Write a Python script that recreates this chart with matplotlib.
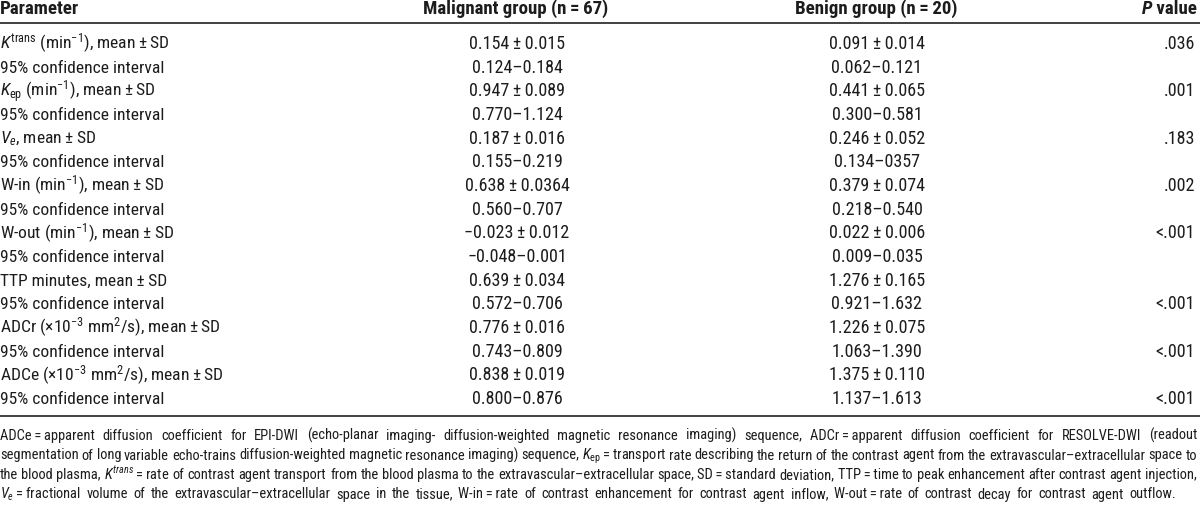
import matplotlib
matplotlib.use('Agg')
import matplotlib.pyplot as plt
from matplotlib import font_manager
from matplotlib.ft2font import FT2Font

# ---------------- data ----------------
header = ["Parameter", "Malignant group (n{s}={s}67)", "Benign group (n{s}={s}20)", "P", " value"]

params = [
    r"$K^{\mathrm{trans}}$ (min$^{-1}$), mean{s}±{s}SD",
    "95% confidence interval",
    r"$K_{\mathrm{ep}}$ (min$^{-1}$), mean{s}±{s}SD",
    "95% confidence interval",
    r"$V_{e}$, mean{s}±{s}SD",
    "95% confidence interval",
    r"W-in (min$^{-1}$), mean{s}±{s}SD",
    "95% confidence interval",
    r"W-out (min$^{-1}$), mean{s}±{s}SD",
    "95% confidence interval",
    "TTP minutes, mean{s}±{s}SD",
    "95% confidence interval",
    r"ADCr (×10$^{-3}$ mm$^{2}$/s), mean{s}±{s}SD",
    "95% confidence interval",
    r"ADCe (×10$^{-3}$ mm$^{2}$/s), mean{s}±{s}SD",
    "95% confidence interval",
]
malignant = ["0.154{s}±{s}0.015", "0.124–0.184", "0.947{s}±{s}0.089", "0.770–1.124",
             "0.187{s}±{s}0.016", "0.155–0.219", "0.638{s}±{s}0.0364", "0.560–0.707",
             "−0.023{s}±{s}0.012", "−0.048–0.001", "0.639{s}±{s}0.034", "0.572–0.706",
             "0.776{s}±{s}0.016", "0.743–0.809", "0.838{s}±{s}0.019", "0.800–0.876"]
benign = ["0.091{s}±{s}0.014", "0.062–0.121", "0.441{s}±{s}0.065", "0.300–0.581",
          "0.246{s}±{s}0.052", "0.134–0357", "0.379{s}±{s}0.074", "0.218–0.540",
          "0.022{s}±{s}0.006", "0.009–0.035", "1.276{s}±{s}0.165", "0.921–1.632",
          "1.226{s}±{s}0.075", "1.063–1.390", "1.375{s}±{s}0.110", "1.137–1.613"]
pvals = [".036", "", ".001", "", ".183", "", ".002", "", "<.001", "",
         "", "<.001", "", "<.001", "", "<.001"]

footnote = [
    "ADCe{s}={s}apparent diffusion coefficient for EPI-DWI (echo-planar imaging- diffusion-weighted magnetic resonance imaging) sequence, ADCr{s}={s}apparent diffusion coefficient for RESOLVE-DWI (readout",
    r"segmentation of long variable echo-trains diffusion-weighted magnetic resonance imaging) sequence, $K_{\mathrm{ep}}${s}={s}transport rate describing the return of the contrast agent from the extravascular–extracellular space to",
    r"the blood plasma, $K^{trans}${s}={s}rate of contrast agent transport from the blood plasma to the extravascular–extracellular space, SD{s}={s}standard deviation, TTP{s}={s}time to peak enhancement after contrast agent injection,",
    r"$V_{e}${s}={s}fractional volume of the extravascular–extracellular space in the tissue, W-in{s}={s}rate of contrast enhancement for contrast agent inflow, W-out{s}={s}rate of contrast decay for contrast agent outflow.",
]

# ---------------- fonts ----------------
names = {f.name for f in font_manager.fontManager.ttflist}
FONT = 'Liberation Sans'
for cand in ['Liberation Sans Narrow', 'Nimbus Sans Narrow', 'Roboto Condensed', 'Archivo Narrow',
             'PT Sans Narrow', 'Fira Sans Condensed', 'IBM Plex Sans Condensed', 'Asap Condensed']:
    if cand in names:
        FONT = cand
        break
plt.rcParams['font.family'] = [FONT, 'DejaVu Sans']
plt.rcParams['mathtext.fontset'] = 'custom'
plt.rcParams['mathtext.rm'] = FONT
plt.rcParams['mathtext.it'] = FONT + ':italic'
plt.rcParams['mathtext.bf'] = FONT + ':bold'

try:
    _ft = FT2Font(font_manager.findfont(FONT))
    THIN = '\u2009' if _ft.get_char_index(0x2009) else ''
except Exception:
    THIN = ''

def sp(s):
    return s.replace('{s}', THIN)

TXT = '#1c1c1c'

fig = plt.figure(figsize=(12, 5.07), dpi=100)
ax = fig.add_axes([0, 0, 1, 1])
ax.set_xlim(0, 1200)
ax.set_ylim(507, 0)
ax.axis('off')
renderer = fig.canvas.get_renderer()

def width(s, **kw):
    t = ax.text(0, 0, s, **kw)
    w = t.get_window_extent(renderer).width
    t.remove()
    return w

def fit(s, target, **kw):
    return 10 * target / width(s, fontsize=10, **kw)

def natural(line, fs):
    toks = line.split(' ')
    spw = width('n n', fontsize=fs) - width('nn', fontsize=fs)
    return sum(width(t, fontsize=fs) for t in toks) + spw * (len(toks) - 1)

# sizes
fs_par = fit("95% confidence interval", 163)
fs_val = fit("0.124–0.184", 90)
fs_hdr = fit(sp(header[1]), 185, fontweight='bold')
fs_fn = 10 * 1197 / natural(sp(footnote[1]), 10)

# ---------------- header ----------------
yh = 14
ax.text(0, yh, header[0], fontsize=fs_hdr, fontweight='bold', ha='left', va='baseline', color=TXT)
ax.text(516, yh, sp(header[1]), fontsize=fs_hdr, fontweight='bold', ha='center', va='baseline', color=TXT)
ax.text(876, yh, sp(header[2]), fontsize=fs_hdr, fontweight='bold', ha='center', va='baseline', color=TXT)
wv = width(header[4], fontsize=fs_hdr, fontweight='bold')
ax.text(1197, yh, header[4], fontsize=fs_hdr, fontweight='bold', ha='right', va='baseline', color=TXT)
ax.text(1197 - wv, yh, header[3], fontsize=fs_hdr, fontweight='bold', fontstyle='italic',
        ha='right', va='baseline', color=TXT)

ax.plot([0, 1200], [23, 23], color='#333333', lw=1.3, solid_capstyle='butt')
ax.plot([0, 1200], [415.5, 415.5], color='#333333', lw=1.3, solid_capstyle='butt')

# ---------------- rows ----------------
y0, dy = 49, 23.67
for i in range(len(params)):
    yb = y0 + dy * i
    ax.text(0, yb, sp(params[i]), fontsize=fs_par, ha='left', va='baseline', color=TXT)
    ax.text(517, yb, sp(malignant[i]), fontsize=fs_val, ha='center', va='baseline', color=TXT)
    ax.text(877, yb, sp(benign[i]), fontsize=fs_val, ha='center', va='baseline', color=TXT)
    if pvals[i]:
        ax.text(1195, yb, pvals[i], fontsize=fs_val, ha='right', va='baseline', color=TXT)

# ---------------- footnote (justified) ----------------
fn_base = [440, 459.5, 479, 498.5]
fn_right = [1197, 1197, 1197, 1176]
for line, yb, xr in zip(footnote, fn_base, fn_right):
    toks = sp(line).split(' ')
    ws = [width(t, fontsize=fs_fn) for t in toks]
    gap = (xr - sum(ws)) / (len(toks) - 1)
    x = 0
    for t, w in zip(toks, ws):
        ax.text(x, yb, t, fontsize=fs_fn, ha='left', va='baseline', color=TXT)
        x += w + gap

fig.savefig('out.png', dpi=100)
